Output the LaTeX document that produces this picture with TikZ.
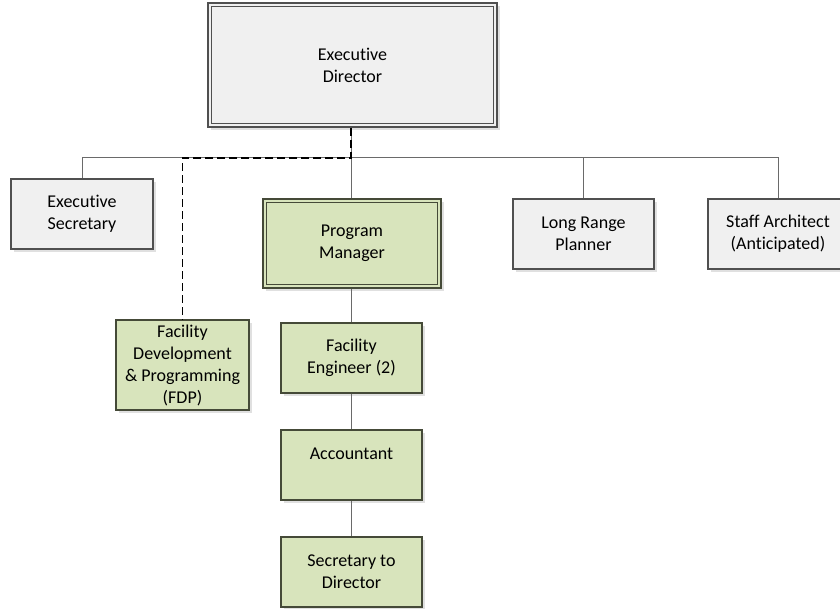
\documentclass[tikz,border=0pt]{standalone}
\usepackage{fontspec}
\setmainfont[Ligatures=NoCommon]{Carlito}
\usetikzlibrary{shadows}

\definecolor{boxgray}{HTML}{F0F0F0}
\definecolor{boxgreen}{HTML}{D8E4BC}
\definecolor{edgegray}{HTML}{505050}
\definecolor{edgegreen}{HTML}{454A38}
\definecolor{linegray}{HTML}{6A6A6A}

\tikzset{
  unit/.style={draw=edgegray, line width=1.2pt, fill=boxgray, align=center,
    inner sep=0pt, font=\fontsize{18}{22}\selectfont,
    drop shadow={shadow xshift=3pt, shadow yshift=-3pt, fill=black!12, opacity=1}},
  greenunit/.style={unit, draw=edgegreen, fill=boxgreen},
  link/.style={draw=linegray, line width=1pt},
  dotted link/.style={draw=black, line width=1.5pt, dash pattern=on 8pt off 4pt}
}

\begin{document}
\begin{tikzpicture}[x=1pt, y=-1pt]
\useasboundingbox (0,0) rectangle (840,609);

% top
\node[unit, minimum width=289pt, minimum height=124pt] (ed) at (352.5,65) {Executive\\Director};
\draw[edgegray, line width=1pt] ([shift={(4pt,4pt)}]ed.south west) rectangle ([shift={(-4pt,-4pt)}]ed.north east);

% staff row
\node[unit, minimum width=142pt, minimum height=70pt] (es) at (82,214) {Executive\\Secretary};
\node[greenunit, minimum width=178pt, minimum height=89pt] (pm) at (352,243.5) {Program\\Manager};
\draw[edgegreen, line width=1pt] ([shift={(4pt,4pt)}]pm.south west) rectangle ([shift={(-4pt,-4pt)}]pm.north east);
\node[unit, minimum width=141pt, minimum height=70pt] (lrp) at (583.5,234) {Long Range\\Planner};
\node[unit, minimum width=140pt, minimum height=70pt] (sa) at (778,234) {Staff Architect\\(Anticipated)};

% lower boxes
\node[greenunit, minimum width=133pt, minimum height=90pt] (fdp) at (182.5,365) {Facility\\Development\\\& Programming\\(FDP)};
\node[greenunit, minimum width=141pt, minimum height=70pt] (fe) at (351.5,358) {Facility\\Engineer (2)};
\node[greenunit, minimum width=141pt, minimum height=70pt] (acc) at (351.5,465) {Accountant\\\mbox{}};
\node[greenunit, minimum width=141pt, minimum height=70pt] (sd) at (351.5,572) {Secretary to\\Director};

\coordinate (bus) at (351,158);

% connectors
\draw[link] (ed.south -| bus) -- (bus);
\draw[link] (es.north) |- (bus);
\draw[link] (bus) -| (sa.north);
\draw[link] (bus -| lrp.north) -- (lrp.north);
\draw[link] (bus) -- (pm.north -| bus);
\draw[link] (pm.south -| bus) -- (fe.north -| bus);
\draw[link] (fe.south -| bus) -- (acc.north -| bus);
\draw[link] (acc.south -| bus) -- (sd.north -| bus);

% dotted line to FDP
\draw[dotted link] (ed.south -| bus) -- (bus) -| (fdp.north);

\end{tikzpicture}
\end{document}
